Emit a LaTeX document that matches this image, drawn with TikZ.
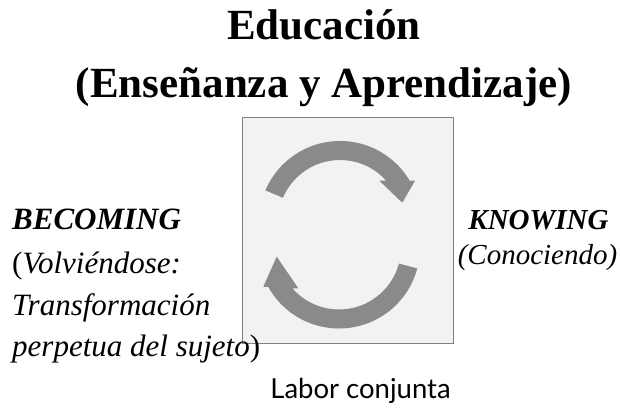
\documentclass[tikz,border=0pt]{standalone}
\usepackage{fontspec}
\setmainfont{Liberation Serif}
\newfontfamily\labelfont{Lato}
\definecolor{arrowgray}{RGB}{138,138,138}
\definecolor{boxfill}{RGB}{242,242,242}
\definecolor{boxline}{RGB}{128,128,128}
\tikzset{
  titletext/.style={anchor=base,inner sep=0pt,font=\fontsize{43}{43}\selectfont\bfseries},
  lefttext/.style={anchor=base west,inner sep=0pt,font=\fontsize{31}{31}\selectfont},
  righttext/.style={anchor=base,inner sep=0pt,font=\fontsize{29}{29}\selectfont},
  cyclebox/.style={draw=boxline,fill=boxfill,line width=1pt},
  cyclearrow/.style={fill=arrowgray,draw=none},
}
\begin{document}
\begin{tikzpicture}[x=1pt,y=1pt]
\useasboundingbox (0,0) rectangle (620,407);
% titles
\node[titletext] (title1) at (324,367) {Educación};
\node[titletext] (title2) at (324,309) {(Enseñanza y Aprendizaje)};
% central box
\draw[cyclebox] (242,64) rectangle (453,289);
\node[inner sep=0pt,minimum width=211pt,minimum height=225pt] (box) at (347.5,176.5) {};
% top arrow
\coordinate (ctop) at (340,185);
\fill[cyclearrow] (ctop) ++(157:81) arc[start angle=157,end angle=30.7,radius=81]
  -- (415,226.3) -- (402.3,204.3) -- (379.3,226.3) -- (386.2,226.3)
  arc[start angle=41.8,end angle=157,radius=62] -- cycle;
% bottom arrow
\coordinate (cbot) at (339,159.5);
\fill[cyclearrow] (cbot) ++(-15:81) arc[start angle=-15,end angle=-150.8,radius=81]
  -- (263.3,120.3) -- (276.7,150.3) -- (298.3,118.7) -- (292.4,118.7)
  arc[start angle=-138.8,end angle=-15,radius=62] -- cycle;
% left text
\node[lefttext] (becoming) at (12,177) {\textbf{\textit{BECOMING}}};
\node[lefttext] (volv) at (12,134) {(\textit{Volviéndose:}};
\node[lefttext] (transf) at (12,92) {\textit{Transformación}};
\node[lefttext] (perp) at (12,51) {\textit{perpetua del sujeto})};
% right text
\node[righttext] (knowing) at (538.5,177.5) {\textbf{\textit{KNOWING}}};
\node[righttext] (conoc) at (537.5,142.5) {\textit{(Conociendo)}};
% bottom label
\node[anchor=base,inner sep=0pt,font=\labelfont\fontsize{27.5}{27.5}\selectfont] (labor) at (360.5,8.7) {Labor conjunta};
\end{tikzpicture}
\end{document}
